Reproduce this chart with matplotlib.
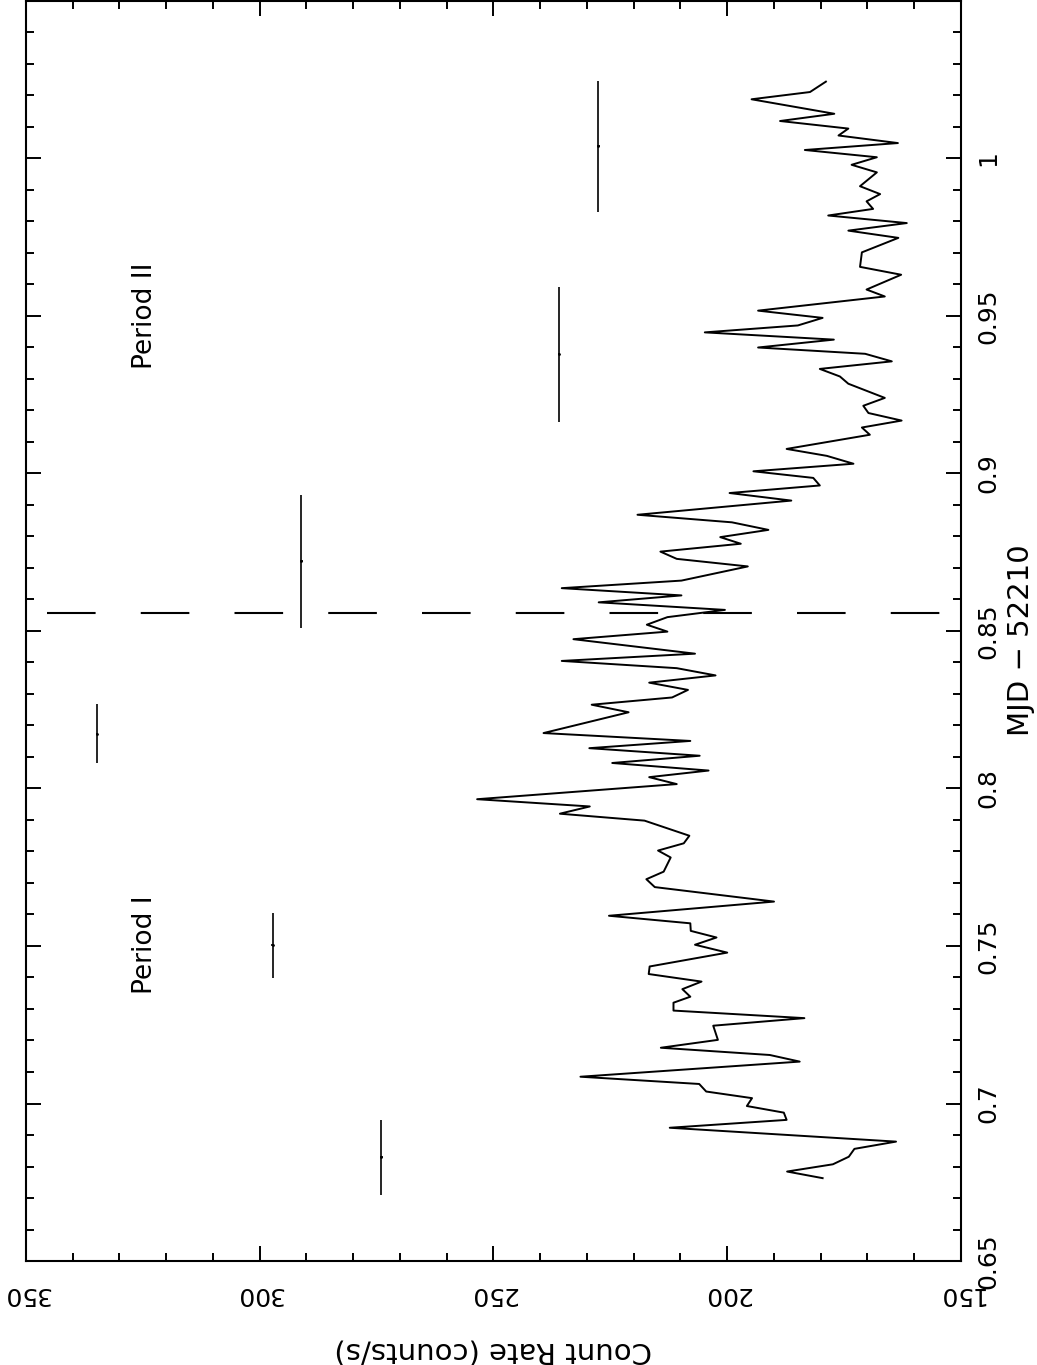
import matplotlib
matplotlib.use("Agg")
import matplotlib.pyplot as plt
from matplotlib.ticker import MultipleLocator

plt.rcParams['font.family'] = ['DejaVu Sans']
plt.rcParams['lines.scale_dashes'] = False

# light curve: MJD - 52210 vs count rate (counts/s)
mjd = [0.6763, 0.6784, 0.6807, 0.6831, 0.6856, 0.6879, 0.6923, 0.6948, 0.6971, 0.6992,
       0.7017, 0.7038, 0.7062, 0.7085, 0.7133, 0.7154, 0.7177, 0.7202, 0.7247, 0.7271,
       0.7295, 0.7320, 0.7339, 0.7363, 0.7387, 0.7411, 0.7435, 0.7479, 0.7504, 0.7527,
       0.7548, 0.7572, 0.7596, 0.7641, 0.7687, 0.7712, 0.7736, 0.7781, 0.7803, 0.7826,
       0.7850, 0.7898, 0.7920, 0.7943, 0.7966, 0.8014, 0.8036, 0.8057, 0.8081, 0.8104,
       0.8128, 0.8151, 0.8176, 0.8242, 0.8266, 0.8289, 0.8313, 0.8336, 0.8359, 0.8382,
       0.8405, 0.8428, 0.8474, 0.8498, 0.8520, 0.8544, 0.8567, 0.8591, 0.8613, 0.8636,
       0.8660, 0.8705, 0.8729, 0.8752, 0.8777, 0.8798, 0.8821, 0.8845, 0.8869, 0.8914,
       0.8938, 0.8962, 0.8986, 0.9007, 0.9031, 0.9056, 0.9078, 0.9123, 0.9146, 0.9168,
       0.9192, 0.9215, 0.9240, 0.9285, 0.9308, 0.9332, 0.9356, 0.9380, 0.9400, 0.9425,
       0.9448, 0.9470, 0.9494, 0.9517, 0.9562, 0.9584, 0.9631, 0.9656, 0.9702, 0.9748,
       0.9771, 0.9795, 0.9819, 0.9840, 0.9864, 0.9887, 0.9912, 0.9956, 0.9980, 1.0004,
       1.0027, 1.0049, 1.0073, 1.0095, 1.0119, 1.0142, 1.0188, 1.0211, 1.0244]
rate = [179.6, 187.2, 177.4, 174.0, 172.8, 163.9, 212.3, 187.3, 187.9, 195.8,
        194.7, 204.5, 206.0, 231.4, 184.5, 190.9, 214.2, 202.0, 203.0, 183.5,
        211.5, 211.5, 207.9, 209.6, 205.5, 216.8, 216.6, 200.0, 206.9, 202.3,
        207.8, 207.9, 225.3, 190.0, 215.5, 217.3, 213.6, 212.1, 214.8, 209.3,
        208.1, 217.7, 235.8, 229.4, 253.5, 210.8, 216.7, 204.0, 224.6, 205.9,
        229.5, 207.9, 239.3, 221.1, 229.0, 211.8, 208.4, 216.7, 202.5, 210.8,
        235.4, 206.9, 232.9, 212.8, 217.2, 212.8, 200.5, 227.5, 209.8, 235.4,
        209.8, 195.6, 210.8, 214.3, 197.1, 201.5, 191.2, 199.0, 219.2, 186.3,
        199.5, 180.2, 181.6, 194.4, 173.0, 178.7, 187.3, 169.5, 171.2, 162.7,
        169.8, 170.9, 166.3, 174.1, 175.9, 180.2, 164.8, 170.5, 193.4, 177.2,
        204.8, 184.9, 179.6, 193.4, 166.3, 170.2, 162.8, 171.6, 171.2, 163.4,
        174.1, 161.6, 178.4, 168.8, 170.2, 167.3, 171.6, 168.0, 173.4, 168.0,
        183.4, 163.5, 176.2, 174.1, 188.7, 177.1, 194.8, 182.3, 178.9]

# binned points with error bars
bin_mjd = [0.6830, 0.7502, 0.8174, 0.8722, 0.9378, 1.0039]
bin_mjd_err = [0.0119, 0.0103, 0.0093, 0.0211, 0.0215, 0.0208]
bin_rate = [274.0, 297.2, 334.8, 291.1, 236.0, 227.6]
bin_rate_err = [0.3, 0.3, 0.3, 0.3, 0.3, 0.3]

split_mjd = 0.8558
split_rate = [345.5, 154.3]

fig = plt.figure(figsize=(10.37, 13.65), dpi=100)
ax = fig.add_axes([0.02507, 0.07619, 0.90164, 0.92308])

ax.plot(rate, mjd, color='black', lw=1.4)
ax.errorbar(bin_rate, bin_mjd, xerr=bin_rate_err, yerr=bin_mjd_err,
            fmt='.', ms=2, color='black', elinewidth=1.2, capsize=0)
ax.plot(split_rate, [split_mjd, split_mjd], color='black', lw=1.5,
        linestyle=(0, (35, 32.5)))

ax.text(324.5, 0.7504, 'Period I', rotation=90, ha='center', va='center', fontsize=19)
ax.text(324.5, 0.9501, 'Period II', rotation=90, ha='center', va='center', fontsize=19)

ax.set_xlim(350, 150)
ax.set_ylim(0.65, 1.05)
ax.xaxis.set_major_locator(MultipleLocator(50))
ax.xaxis.set_minor_locator(MultipleLocator(10))
ax.yaxis.set_major_locator(MultipleLocator(0.05))
ax.yaxis.set_minor_locator(MultipleLocator(0.01))
ax.set_xticks([350, 300, 250, 200, 150])
ax.set_xticklabels(['350', '300', '250', '200', '150'])
ax.set_yticks([0.65, 0.7, 0.75, 0.8, 0.85, 0.9, 0.95, 1.0])
ax.set_yticklabels(['0.65', '0.7', '0.75', '0.8', '0.85', '0.9', '0.95', '1'])

ax.tick_params(which='both', direction='in', top=True, bottom=True, left=True, right=True,
               labelleft=False, labelright=True, labelbottom=True, labeltop=False,
               width=1.4, labelsize=18)
ax.tick_params(which='major', length=11)
ax.tick_params(which='minor', length=5.5)
ax.tick_params(axis='x', pad=15, labelrotation=180)
ax.tick_params(axis='y', pad=11, labelrotation=90)
for lbl in ax.get_yticklabels():
    lbl.set_va('center')
for s in ax.spines.values():
    s.set_linewidth(1.5)

ax.text(0.5, -0.0714, 'Count Rate (counts/s)', rotation=180, ha='center', va='center',
        fontsize=21, transform=ax.transAxes)
ax.text(1.064, 0.493, 'MJD \u2212 52210', rotation=90, ha='center', va='center',
        fontsize=21, transform=ax.transAxes)

fig.savefig('out.png', dpi=100)
